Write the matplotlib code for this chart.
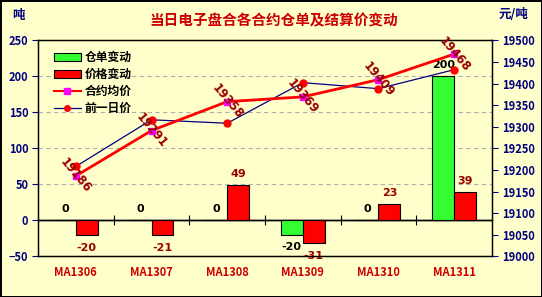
import matplotlib
matplotlib.use('Agg')
import matplotlib.pyplot as plt
import numpy as np
from matplotlib.patches import Patch
from matplotlib.lines import Line2D

plt.rcParams['font.family'] = ['Noto Sans CJK SC', 'DejaVu Sans']

categories = ['MA1306', 'MA1307', 'MA1308', 'MA1309', 'MA1310', 'MA1311']
warrant_change = [0, 0, 0, -20, 0, 200]
price_change = [-20, -21, 49, -31, 23, 39]
avg_price = [19186, 19291, 19358, 19369, 19409, 19468]
prev_price = [19208, 19316, 19308, 19402, 19388, 19432]

title = '当日电子盘合各合约仓单及结算价变动'
bg = '#FFFFCC'
navy = '#000080'
dred = '#990000'

fig = plt.figure(figsize=(5.42, 2.97), dpi=100, facecolor=bg)
fig.patch.set_edgecolor('black')
fig.patch.set_linewidth(2)

W, H = 542, 297
ax = fig.add_axes([38 / W, 1 - 256.3 / H, 454 / W, 216 / H])
ax.set_facecolor(bg)
x = np.arange(len(categories))
w = 0.29
ax.bar(x - w / 2, warrant_change, w, color='#33FF33', edgecolor='black', linewidth=0.8, zorder=3)
ax.bar(x + w / 2, price_change, w, color='#FF0000', edgecolor='black', linewidth=0.8, zorder=3)
ax.set_xlim(-0.5, 5.5)
ax.set_ylim(-50, 250)
ax.set_yticks(range(-50, 251, 50))
ax.yaxis.grid(True, linestyle=(0, (4, 3)), color='#B0B0B0', linewidth=0.8)
ax.set_axisbelow(True)
ax.axhline(0, color='black', lw=1, zorder=2)
ax.set_xticks(x)
ax.set_xticklabels(categories, color='#CC0000', fontweight='bold', fontsize=8)
ax.tick_params(axis='x', length=0, pad=7)
ax.tick_params(axis='y', colors=navy, labelsize=8, length=4, pad=3)
for lbl in ax.get_yticklabels():
    lbl.set_fontweight('bold')
for sp in ax.spines.values():
    sp.set_linewidth(1)

sec = ax.secondary_xaxis(1 / 6)
sec.set_xticks(x[:-1] + 0.5)
sec.set_xticklabels([])
sec.tick_params(direction='inout', length=7, width=0.8)
sec.spines['bottom'].set_linewidth(1)

for xi, v in zip(x, warrant_change):
    off = 11 if v >= 0 else -12
    ax.annotate(str(v), (xi - w / 2, v), xytext=(0, off), textcoords='offset pixels',
                ha='center', va='center', fontsize=8, fontweight='bold', color='black',
                family='DejaVu Sans', zorder=5)
for xi, v in zip(x, price_change):
    off = 11 if v >= 0 else -13
    ax.annotate(str(v), (xi + w / 2, v), xytext=(0, off), textcoords='offset pixels',
                ha='center', va='center', fontsize=8, fontweight='bold', color=dred,
                family='DejaVu Sans', zorder=5)

ax2 = ax.twinx()
ax2.set_ylim(19000, 19500)
ax2.set_yticks(range(19000, 19501, 50))
ax2.tick_params(axis='y', colors=navy, labelsize=8, length=4, pad=3)
for lbl in ax2.get_yticklabels():
    lbl.set_fontweight('bold')
ax2.plot(x, prev_price, color=navy, lw=0.9, marker='o', ms=5, mfc='red', mec='red', zorder=3)
ax2.plot(x, avg_price, color='red', lw=2, marker='s', ms=5, mfc='#FF00FF', mec='#FF00FF', zorder=4)
for xi, v in zip(x, avg_price):
    ax2.text(xi, v, str(v), rotation=-50, ha='center', va='center', rotation_mode='anchor',
             color=dred, fontsize=8.5, fontweight='bold', family='DejaVu Sans', zorder=6)

handles = [
    Patch(facecolor='#33FF33', edgecolor='black', linewidth=0.8),
    Patch(facecolor='#FF0000', edgecolor='black', linewidth=0.8),
    Line2D([], [], color='red', lw=1.5, marker='s', ms=4, mfc='#FF00FF', mec='#FF00FF'),
    Line2D([], [], color=navy, lw=0.9, marker='o', ms=4, mfc='red', mec='red'),
]
labels = ['仓单变动', '价格变动', '合约均价', '前一日价']
leg = ax2.legend(handles, labels, loc='upper left', bbox_to_anchor=(48 / W, 1 - 45 / H),
                 bbox_transform=fig.transFigure, frameon=False, fontsize=8.5,
                 labelspacing=0.35, handlelength=2.3, handletextpad=0.3, borderpad=0)
for t in leg.get_texts():
    t.set_fontweight('bold')

fig.text(274 / W, 1 - 20 / H, title, ha='center', va='center', color='#CC0000',
         fontsize=10.5, fontweight='bold')
fig.text(18 / W, 1 - 15 / H, '吨', ha='center', va='center', color=navy, fontsize=9, fontweight='bold')
fig.text(514 / W, 1 - 15 / H, '元/吨', ha='center', va='center', color=navy, fontsize=9, fontweight='bold')

fig.savefig('out.png', dpi=100, facecolor=bg, edgecolor='black')
